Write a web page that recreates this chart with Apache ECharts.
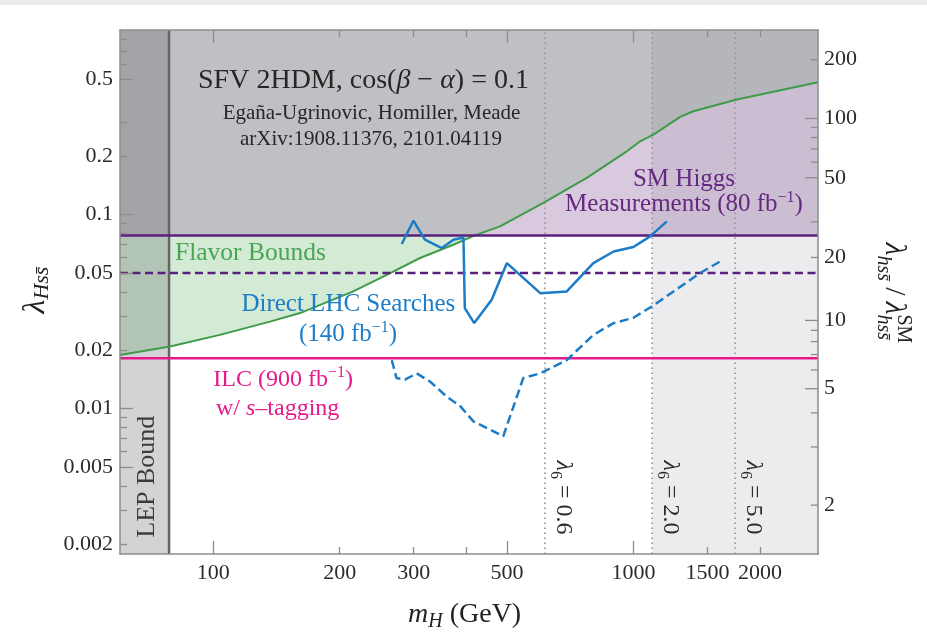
<!DOCTYPE html>
<html>
<head>
<meta charset="utf-8">
<script src="https://cdn.jsdelivr.net/npm/echarts@6/dist/echarts.min.js"></script>
<style>
  html, body { margin: 0; padding: 0; background: #ffffff; }
  #chart { width: 927px; height: 634px; }
</style>
</head>
<body>
<div id="chart"></div>
<script>
// ---- data (m_H in GeV, coupling lambda_Hss) ----
const FLAVOR_M = [60, 78.9, 103.7, 136.5, 160.9, 215.4, 258.8, 310.6, 372.7, 418, 481.5, 610.6, 774.5, 964.5, 1037.5, 1116, 1292, 1389, 1763, 2750];
const FLAVOR_L = [0.0189, 0.0209, 0.0240, 0.0281, 0.0311, 0.0402, 0.0490, 0.0598, 0.0700, 0.0780, 0.0870, 0.1149, 0.1547, 0.2122, 0.239, 0.2588, 0.3194, 0.3414, 0.3925, 0.482];

const LHC_OBS_M = [281, 299.5, 319, 350, 373, 394, 397, 418, 460, 500, 600, 694, 803, 897, 1000, 1096, 1201];
const LHC_OBS_L = [0.0706, 0.0931, 0.0743, 0.0673, 0.0743, 0.0763, 0.0330, 0.0276, 0.0364, 0.0563, 0.0394, 0.0402, 0.0563, 0.0646, 0.0681, 0.0773, 0.0923];

const LHC_PROJ_M = [266, 273, 286, 305, 328, 360, 387, 416, 490, 547, 600, 694, 803, 897, 1000, 1106, 1441, 1608];
const LHC_PROJ_L = [0.0178, 0.0144, 0.0141, 0.0152, 0.0138, 0.0115, 0.0103, 0.0086, 0.0072, 0.0144, 0.0152, 0.0178, 0.0240, 0.0276, 0.0294, 0.0336, 0.0500, 0.0574];

const HIGGS_NOW = 0.078;     // SM Higgs measurements, 80 fb^-1
const HIGGS_PROJ = 0.05;     // dashed projection
const ILC_LIMIT = 0.0182;    // ILC 900 fb^-1 with s-tagging
const LEP_M = 78.5;          // LEP bound on m_H
const LAMBDA6_VALUES = ['0.6', '2.0', '5.0'];
const LAMBDA6_M = [616, 1108, 1747];

// axis ranges and ticks
const X_MIN = 60, X_MAX = 2750;
const Y_MIN = 0.00178, Y_MAX = 0.896;
const X_LABELS = [100, 200, 300, 500, 1000, 1500, 2000];
const X_MAJOR = [100, 500, 1000];
const X_MINOR = [200, 300, 400, 1500, 2000];
const Y_LABELS = [0.002, 0.005, 0.01, 0.02, 0.05, 0.1, 0.2, 0.5];
const Y_MAJOR = [0.005, 0.01, 0.05, 0.1, 0.5];
const Y_MINOR = [0.002, 0.003, 0.004, 0.006, 0.007, 0.008, 0.009, 0.02, 0.03, 0.04, 0.06, 0.07, 0.08, 0.09, 0.2, 0.3, 0.6, 0.7, 0.8];

// right axis: lambda_hss / lambda_hss^SM = RATIO_A + RATIO_B * lambda_Hss
const RATIO_A = 0.995, RATIO_B = 316;
const RIGHT_TICKS = [2, 3, 4, 5, 6, 7, 8, 9, 10, 20, 30, 50, 60, 70, 80, 90, 100, 200];
const RIGHT_LABELS = [2, 5, 10, 20, 50, 100, 200];
const RIGHT_MAJOR = [5, 10, 50, 100];

// ---- styling ----
const SERIF = '"Liberation Serif", "DejaVu Serif", serif';
const AX = '#8d8d8d';
const TXT = '#2b2b2b';
const C_GREEN = '#3f9b47', C_GREEN_TXT = '#4aa553', C_GREEN_FILL = '#d3ebd4';
const C_PURPLE = '#5b1f7e', C_PURPLE_TXT = '#66287f', C_PURPLE_FILL = '#d9c9de';
const C_GRAY_FILL = '#bfc0c3';
const C_BLUE = '#1c7cc7';
const C_PINK = '#e5198b';

const pairs = (xs, ys) => xs.map((x, i) => [x, ys[i]]);
const fmt = v => String(+(+v).toPrecision(3));

const measureCtx = document.createElement('canvas').getContext('2d');
function fontOf(size, italic) { return (italic ? 'italic ' : '') + size + 'px ' + SERIF; }
function widthOf(t, size, italic) { measureCtx.font = fontOf(size, italic); return measureCtx.measureText(t).width; }

// a run of text pieces sharing one baseline (local y = 0); sub/superscripts via dy
function mathLabel(pieces, o) {
  let x = 0, pending = 0;
  const kids = [];
  for (const p of pieces) {
    const w = widthOf(p.t, p.size, p.it);
    kids.push({
      type: 'text', x: x, y: (p.dy || 0) - 0.34 * p.size, z: 50, silent: true,
      style: { text: p.t, font: fontOf(p.size, p.it), fill: o.color, align: 'left', verticalAlign: 'middle' }
    });
    if (p.hold) { pending = Math.max(pending, w); }
    else { x += Math.max(w, pending); pending = 0; }
  }
  const shift = o.anchor === 'left' ? 0 : -x / 2;
  kids.forEach(k => { k.x += shift; });
  return { type: 'group', x: o.x, y: o.y, rotation: o.rotation || 0, z: 50, silent: true, children: kids };
}

function logAxis(extra) {
  return Object.assign({
    type: 'log', logBase: 10, z: 20, silent: true,
    splitLine: { show: false }, minorTick: { show: false }, minorSplitLine: { show: false }
  }, extra);
}
const labelFont = { fontFamily: SERIF, fontSize: 22, color: TXT };
const tickStyle = { color: AX, width: 1.3 };
const lineAx = { show: true, onZero: false, lineStyle: { color: AX, width: 1.5 } };

const chart = echarts.init(document.getElementById('chart'), null, { renderer: 'canvas' });

const lineSeries = (name, data, color, width, type, z) => ({
  name, type: 'line', data, symbol: 'none', showSymbol: false, silent: true, z: z || 6,
  lineStyle: { color, width, type: type || 'solid', cap: 'butt' }
});
const fillSeries = (name, data, color, z, origin) => ({
  name, type: 'line', data, symbol: 'none', showSymbol: false, silent: true, z,
  lineStyle: { width: 0, opacity: 0 },
  areaStyle: { origin: origin || 'end', color, opacity: 1 }
});

chart.setOption({
  animation: false,
  backgroundColor: '#ffffff',
  grid: { left: 120, right: 109, top: 30, bottom: 80, containLabel: false },
  xAxis: [
    logAxis({ min: X_MIN, max: X_MAX, position: 'bottom', axisLine: lineAx,
      axisTick: { show: true, inside: true, length: 13, customValues: X_MAJOR, lineStyle: tickStyle },
      axisLabel: Object.assign({ show: true, customValues: X_LABELS, formatter: fmt, margin: 8 }, labelFont) }),
    logAxis({ min: X_MIN, max: X_MAX, position: 'bottom', axisLine: { show: false },
      axisTick: { show: true, inside: true, length: 7, customValues: X_MINOR, lineStyle: tickStyle },
      axisLabel: { show: false } }),
    logAxis({ min: X_MIN, max: X_MAX, position: 'top', axisLine: lineAx,
      axisTick: { show: true, inside: true, length: 13, customValues: X_MAJOR, lineStyle: tickStyle },
      axisLabel: { show: false } }),
    logAxis({ min: X_MIN, max: X_MAX, position: 'top', axisLine: { show: false },
      axisTick: { show: true, inside: true, length: 7, customValues: X_MINOR, lineStyle: tickStyle },
      axisLabel: { show: false } })
  ],
  yAxis: [
    logAxis({ min: Y_MIN, max: Y_MAX, position: 'left', axisLine: lineAx,
      axisTick: { show: true, inside: true, length: 13, customValues: Y_MAJOR, lineStyle: tickStyle },
      axisLabel: Object.assign({ show: true, customValues: Y_LABELS, formatter: fmt, margin: 7 }, labelFont) }),
    logAxis({ min: Y_MIN, max: Y_MAX, position: 'left', axisLine: { show: false },
      axisTick: { show: true, inside: true, length: 7, customValues: Y_MINOR, lineStyle: tickStyle },
      axisLabel: { show: false } }),
    logAxis({ min: Y_MIN, max: Y_MAX, position: 'right', axisLine: lineAx,
      axisTick: { show: false }, axisLabel: { show: false } })
  ],
  series: [
    // excluded by flavor only (above the flavor curve)
    fillSeries('flavorFill', pairs(FLAVOR_M, FLAVOR_L), C_GREEN_FILL, 1),
    // excluded by Higgs measurements only
    fillSeries('higgsFill', [[X_MIN, HIGGS_NOW], [X_MAX, HIGGS_NOW]], C_PURPLE_FILL, 2),
    // excluded by both
    fillSeries('bothFill', FLAVOR_M.map((m, i) => [m, Math.max(FLAVOR_L[i], HIGGS_NOW)]), C_GRAY_FILL, 3),
    // LEP excluded strip and large-lambda6 band
    fillSeries('lepBand', [[X_MIN, Y_MAX], [LEP_M, Y_MAX]], 'rgba(79,80,86,0.25)', 4, 'start'),
    fillSeries('lambda6Band', [[LAMBDA6_M[1], Y_MAX], [X_MAX, Y_MAX]], 'rgba(128,128,140,0.15)', 4, 'start'),

    lineSeries('lep', [[LEP_M, Y_MIN], [LEP_M, Y_MAX]], '#646464', 2.5, 'solid', 5),
    ...LAMBDA6_M.map((m, i) => lineSeries('lambda6_' + LAMBDA6_VALUES[i], [[m, Y_MIN], [m, Y_MAX]], '#9a9a9a', 1.8, [1.5, 3.5], 5)),

    lineSeries('flavor', pairs(FLAVOR_M, FLAVOR_L), C_GREEN, 2),
    lineSeries('higgsNow', [[X_MIN, HIGGS_NOW], [X_MAX, HIGGS_NOW]], C_PURPLE, 2.5),
    lineSeries('higgsProj', [[X_MIN, HIGGS_PROJ], [X_MAX, HIGGS_PROJ]], C_PURPLE, 2.5, [8, 4.5]),
    lineSeries('ilc', [[X_MIN, ILC_LIMIT], [X_MAX, ILC_LIMIT]], C_PINK, 2.5),
    lineSeries('lhcObserved', pairs(LHC_OBS_M, LHC_OBS_L), C_BLUE, 2.5),
    lineSeries('lhcProjected', pairs(LHC_PROJ_M, LHC_PROJ_L), C_BLUE, 2.5, [9, 4.5]),

    // right-hand axis ticks and labels, placed through the left (lambda_Hss) scale
    {
      name: 'ratioAxis', type: 'custom', clip: false, silent: true, z: 25,
      data: RIGHT_TICKS.map(r => [X_MAX, (r - RATIO_A) / RATIO_B, r]),
      encode: { x: 0, y: 1 },
      renderItem: (params, api) => {
        const r = api.value(2);
        const p = api.coord([api.value(0), api.value(1)]);
        const len = RIGHT_MAJOR.indexOf(r) >= 0 ? 13 : 7;
        const kids = [{ type: 'line', shape: { x1: p[0] - len, y1: p[1], x2: p[0], y2: p[1] },
          style: { stroke: AX, lineWidth: 1.3 } }];
        if (RIGHT_LABELS.indexOf(r) >= 0) {
          kids.push({ type: 'text', x: p[0] + 6, y: p[1],
            style: { text: String(r), font: fontOf(22, false), fill: TXT, align: 'left', verticalAlign: 'middle' } });
        }
        return { type: 'group', children: kids };
      }
    }
  ]
});

// ---- annotations ----
const toPx = (m, l) => chart.convertToPixel({ xAxisIndex: 0, yAxisIndex: 0 }, [m, l]);
const sup = '\u22121';
const sbar = 's\u0304';

const graphics = [
  { type: 'rect', shape: { x: 0, y: 0, width: 927, height: 5 }, style: { fill: '#ebebeb' }, z: 60, silent: true },

  mathLabel([{ t: 'SFV 2HDM, cos(', size: 28 }, { t: 'β', size: 28, it: true }, { t: ' − ', size: 28 },
             { t: 'α', size: 28, it: true }, { t: ') = 0.1', size: 28 }], { x: 363.5, y: 90, color: '#262626' }),
  mathLabel([{ t: 'Egaña-Ugrinovic, Homiller, Meade', size: 21 }], { x: 371.5, y: 120.5, color: '#262626' }),
  mathLabel([{ t: 'arXiv:1908.11376, 2101.04119', size: 21 }], { x: 371, y: 146.5, color: '#262626' }),

  mathLabel([{ t: 'SM Higgs', size: 25 }], { x: 684, y: 188, color: C_PURPLE_TXT }),
  mathLabel([{ t: 'Measurements (80 fb', size: 25 }, { t: sup, size: 16, dy: -10 }, { t: ')', size: 25 }],
            { x: 684, y: 213.3, color: C_PURPLE_TXT }),

  mathLabel([{ t: 'Flavor Bounds', size: 25.5 }], { x: 175, y: 262.3, color: C_GREEN_TXT, anchor: 'left' }),

  mathLabel([{ t: 'Direct LHC Searches', size: 25 }], { x: 348.3, y: 313.3, color: C_BLUE }),
  mathLabel([{ t: '(140 fb', size: 25 }, { t: sup, size: 16, dy: -10 }, { t: ')', size: 25 }],
            { x: 348, y: 343.3, color: C_BLUE }),

  mathLabel([{ t: 'ILC (900 fb', size: 24 }, { t: sup, size: 16, dy: -10 }, { t: ')', size: 24 }],
            { x: 213.3, y: 388.3, color: C_PINK, anchor: 'left' }),
  mathLabel([{ t: 'w/ ', size: 24 }, { t: 's', size: 24, it: true }, { t: '–tagging', size: 24 }],
            { x: 216, y: 416.7, color: C_PINK, anchor: 'left' }),

  mathLabel([{ t: 'LEP Bound', size: 26 }], { x: 156.5, y: 476.7, rotation: Math.PI / 2, color: '#3c3c3c' }),

  // axis titles
  mathLabel([{ t: 'm', size: 28, it: true }, { t: 'H', size: 20, it: true, dy: 5 }, { t: ' (GeV)', size: 28 }],
            { x: 408, y: 624, color: '#222', anchor: 'left' }),
  mathLabel([{ t: 'λ', size: 32, it: true }, { t: 'Hs' + sbar, size: 22, it: true, dy: 4 }],
            { x: 46, y: 290, rotation: Math.PI / 2, color: '#222' }),
  mathLabel([{ t: 'λ', size: 30, it: true }, { t: 'hs' + sbar, size: 20, it: true, dy: 8 },
             { t: '\u2009/\u2009', size: 30 }, { t: 'λ', size: 30, it: true },
             { t: 'SM', size: 20, dy: -12, hold: true }, { t: 'hs' + sbar, size: 20, it: true, dy: 8 }],
            { x: 884, y: 293, rotation: -Math.PI / 2, color: '#222' })
];

LAMBDA6_M.forEach((m, i) => {
  const p = toPx(m, Y_MIN);
  graphics.push(mathLabel([{ t: 'λ', size: 24, it: true }, { t: '6', size: 16, dy: 5 }, { t: ' = ' + LAMBDA6_VALUES[i], size: 24 }],
    { x: p[0] + 10, y: 497.5, rotation: -Math.PI / 2, color: '#2a2a2a' }));
});

chart.setOption({ graphic: graphics });
</script>
</body>
</html>
